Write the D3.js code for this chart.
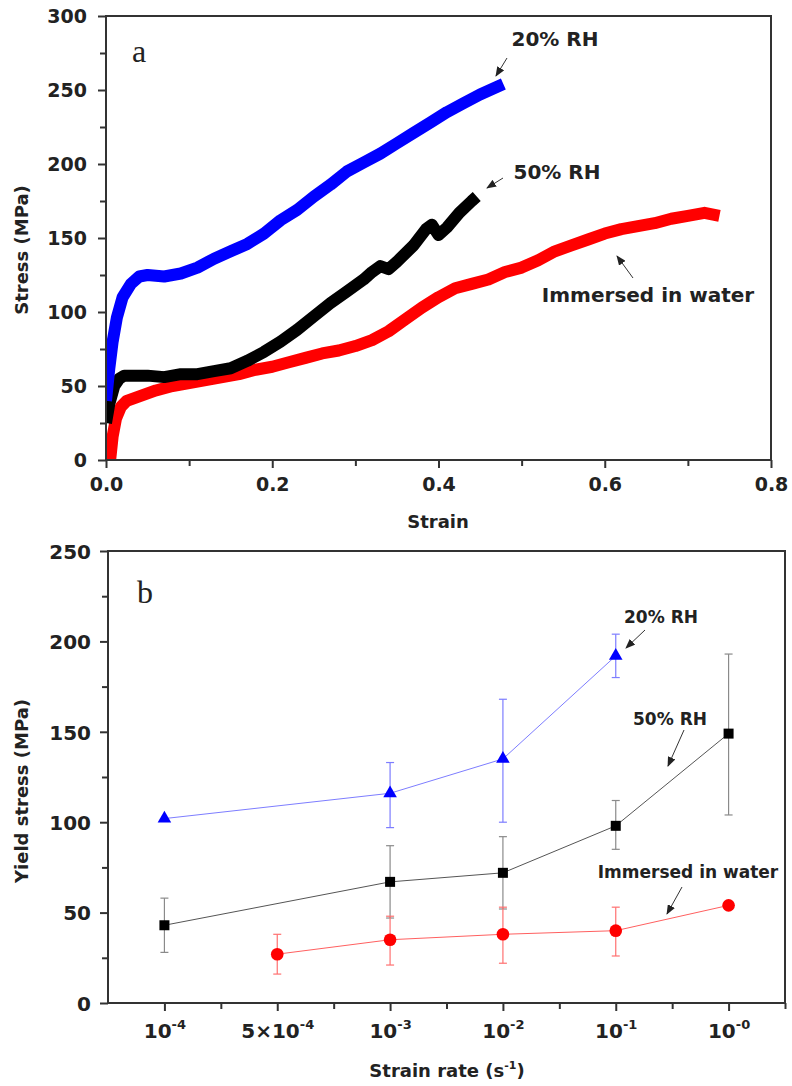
<!DOCTYPE html>
<html>
<head>
<meta charset="utf-8">
<script src="https://cdn.jsdelivr.net/npm/d3@7"></script>
<style>
  body { margin: 0; background: #fff; }
  svg { display: block; }
  text { font-family: "DejaVu Sans", sans-serif; font-weight: bold; fill: #222; }
</style>
</head>
<body>
<script>
// ---- panel a: stress-strain curves ----
const strain20 = [0, 0.004, 0.008, 0.013, 0.02, 0.03, 0.04, 0.05, 0.07, 0.09, 0.11, 0.13, 0.15, 0.17, 0.19, 0.21, 0.23, 0.25, 0.27, 0.29, 0.31, 0.33, 0.35, 0.37, 0.39, 0.41, 0.43, 0.45, 0.47, 0.478]
const stress20 = [40, 62, 80, 96, 110, 119, 124, 125, 124, 126, 130, 136, 141, 146, 153, 162, 169, 178, 186, 195, 201, 207, 214, 221, 228, 235, 241, 247, 252, 254]

const strain50 = [0, 0.004, 0.01, 0.016, 0.022, 0.03, 0.05, 0.07, 0.09, 0.11, 0.13, 0.15, 0.17, 0.19, 0.21, 0.23, 0.25, 0.27, 0.29, 0.31, 0.32, 0.33, 0.34, 0.35, 0.37, 0.385, 0.392, 0.40, 0.41, 0.425, 0.44, 0.446]
const stress50 = [25, 38, 50, 55, 57, 57, 57, 56, 58, 58, 60, 62, 67, 73, 80, 88, 97, 106, 114, 122, 127, 131, 129, 134, 145, 156, 159, 152, 157, 167, 175, 178]

const strainWater = [0.005, 0.008, 0.012, 0.018, 0.025, 0.04, 0.06, 0.08, 0.1, 0.12, 0.14, 0.16, 0.18, 0.2, 0.22, 0.24, 0.26, 0.28, 0.3, 0.32, 0.34, 0.36, 0.38, 0.4, 0.42, 0.44, 0.46, 0.48, 0.5, 0.52, 0.54, 0.56, 0.58, 0.6, 0.62, 0.64, 0.66, 0.68, 0.7, 0.72, 0.738]
const stressWater = [0, 16, 28, 36, 40, 43, 47, 50, 52, 54, 56, 58, 61, 63, 66, 69, 72, 74, 77, 81, 87, 95, 103, 110, 116, 119, 122, 127, 130, 135, 141, 145, 149, 153, 156, 158, 160, 163, 165, 167, 165]

const strainTicks = [0, 0.2, 0.4, 0.6, 0.8]
const stressTicks = [0, 50, 100, 150, 200, 250, 300]

// ---- panel b: yield stress vs strain rate ----
const rateBase = ["10", "5×10", "10", "10", "10", "10"]
const rateExp = ["-4", "-4", "-3", "-2", "-1", "-0"]

const rh20Idx = [0, 2, 3, 4]
const rh20Mean = [102, 116, 135, 192]
const rh20Lo = [null, 97, 100, 180]
const rh20Hi = [null, 133, 168, 204]

const rh50Idx = [0, 2, 3, 4, 5]
const rh50Mean = [43, 67, 72, 98, 149]
const rh50Lo = [28, 47, 52, 85, 104]
const rh50Hi = [58, 87, 92, 112, 193]

const waterIdx = [1, 2, 3, 4, 5]
const waterMean = [27, 35, 38, 40, 54]
const waterLo = [16, 21, 22, 26, null]
const waterHi = [38, 48, 53, 53, null]

const yieldTicks = [0, 50, 100, 150, 200, 250]

const svg = d3.select("body").append("svg")
    .attr("width", 792)
    .attr("height", 1086)

const defs = svg.append("defs")
defs.append("marker")
    .attr("id", "arrow")
    .attr("viewBox", "0 -4 10 8")
    .attr("markerUnits", "userSpaceOnUse")
    .attr("markerWidth", 10)
    .attr("markerHeight", 8)
    .attr("refX", 9)
    .attr("orient", "auto")
    .append("path")
    .attr("d", "M0,-4 L10,0 L0,4 Z")
    .attr("fill", "#222")

function frame(g, x, y) {
    const [x0, x1] = x.range()
    const [y0, y1] = y.range()
    g.append("rect")
        .attr("x", x0).attr("y", y1)
        .attr("width", x1 - x0).attr("height", y0 - y1)
        .attr("fill", "none")
        .attr("stroke", "#333")
        .attr("stroke-width", 2)
}

function styleAxis(g) {
    g.select(".domain").remove()
    g.selectAll(".tick line").attr("stroke", "#333").attr("stroke-width", 2)
}

// ================= panel a =================
const xA = d3.scaleLinear().domain([0, 0.8]).range([106, 771])
const yA = d3.scaleLinear().domain([0, 300]).range([460, 16])
const gA = svg.append("g")

defs.append("clipPath").attr("id", "clipA")
    .append("rect")
    .attr("x", xA(0)).attr("y", yA(300))
    .attr("width", xA(0.8) - xA(0)).attr("height", yA(0) - yA(300))

const lineA = d3.line().x(d => xA(d[0])).y(d => yA(d[1]))
const curves = [
    { x: strainWater, y: stressWater, color: "#ff0000" },
    { x: strain50, y: stress50, color: "#000000" },
    { x: strain20, y: stress20, color: "#0000ff" }
]
gA.append("g").attr("clip-path", "url(#clipA)")
    .selectAll("path")
    .data(curves)
    .join("path")
    .attr("d", d => lineA(d.x.map((v, i) => [v, d.y[i]])))
    .attr("fill", "none")
    .attr("stroke", d => d.color)
    .attr("stroke-width", 12)
    .attr("stroke-linejoin", "round")

// minor ticks
gA.append("g").attr("transform", `translate(0,${yA(0)})`)
    .call(d3.axisBottom(xA).tickValues([0.1, 0.3, 0.5, 0.7]).tickSize(6).tickFormat(""))
    .call(styleAxis)
gA.append("g").attr("transform", `translate(${xA(0)},0)`)
    .call(d3.axisLeft(yA).tickValues([25, 75, 125, 175, 225, 275]).tickSize(6).tickFormat(""))
    .call(styleAxis)

const axXA = gA.append("g").attr("transform", `translate(0,${yA(0)})`)
    .call(d3.axisBottom(xA).tickValues(strainTicks).tickSize(8).tickFormat(d3.format(".1f")))
    .call(styleAxis)
axXA.selectAll("text").attr("dy", null).attr("y", 31).attr("font-size", 19)

const axYA = gA.append("g").attr("transform", `translate(${xA(0)},0)`)
    .call(d3.axisLeft(yA).tickValues(stressTicks).tickSize(8))
    .call(styleAxis)
axYA.selectAll("text").attr("x", -19).attr("dy", "0.36em").attr("font-size", 19)

frame(gA, xA, yA)

gA.append("text").attr("x", 132).attr("y", 62)
    .style("font-family", "'Liberation Serif', serif").style("font-weight", "normal")
    .attr("font-size", 32)
    .text("a")

gA.append("text").attr("x", 438).attr("y", 528).attr("text-anchor", "middle")
    .attr("font-size", 18).text("Strain")
gA.append("text").attr("transform", "translate(28,250) rotate(-90)")
    .attr("text-anchor", "middle").attr("font-size", 18).text("Stress (MPa)")

const notesA = [
    { text: "20% RH", x: 555, y: 46, ax1: 507, ay1: 58, ax2: 496, ay2: 76 },
    { text: "50% RH", x: 557, y: 179, ax1: 503, ay1: 178, ax2: 487, ay2: 188 },
    { text: "Immersed in water", x: 648, y: 302, ax1: 633, ay1: 278, ax2: 617, ay2: 256 }
]
notesA.forEach(n => {
    gA.append("text").attr("x", n.x).attr("y", n.y).attr("text-anchor", "middle")
        .attr("font-size", 20).attr("fill", "#333").text(n.text)
    gA.append("line")
        .attr("x1", n.ax1).attr("y1", n.ay1).attr("x2", n.ax2).attr("y2", n.ay2)
        .attr("stroke", "#333").attr("stroke-width", 1)
        .attr("marker-end", "url(#arrow)")
})

// ================= panel b =================
const xB = d3.scaleLinear().domain([-0.5, 5.5]).range([108, 785])
const yB = d3.scaleLinear().domain([0, 250]).range([1003, 551])
const gB = svg.append("g")

gB.append("g").attr("transform", `translate(0,${yB(0)})`)
    .call(d3.axisBottom(xB).tickValues([0.5, 1.5, 2.5, 3.5, 4.5, 5.5]).tickSize(6).tickFormat(""))
    .call(styleAxis)
gB.append("g").attr("transform", `translate(${xB(-0.5)},0)`)
    .call(d3.axisLeft(yB).tickValues([25, 75, 125, 175, 225]).tickSize(6).tickFormat(""))
    .call(styleAxis)

const axXB = gB.append("g").attr("transform", `translate(0,${yB(0)})`)
    .call(d3.axisBottom(xB).tickValues(d3.range(rateBase.length)).tickSize(8))
    .call(styleAxis)
axXB.selectAll("text").each(function (d) {
    const t = d3.select(this).text("").attr("dy", null).attr("y", 35).attr("font-size", 20)
    t.append("tspan").text(rateBase[d])
    t.append("tspan").attr("font-size", 13).attr("dy", -9).text(rateExp[d])
})

const axYB = gB.append("g").attr("transform", `translate(${xB(-0.5)},0)`)
    .call(d3.axisLeft(yB).tickValues(yieldTicks).tickSize(8))
    .call(styleAxis)
axYB.selectAll("text").attr("x", -17).attr("dy", "0.36em").attr("font-size", 20)

const seriesB = [
    { idx: rh20Idx, mean: rh20Mean, lo: rh20Lo, hi: rh20Hi, line: "#7d7dff", err: "#7d7dff", fill: "#0000ff", sym: d3.symbolTriangle, size: 80 },
    { idx: rh50Idx, mean: rh50Mean, lo: rh50Lo, hi: rh50Hi, line: "#555555", err: "#8a8a8a", fill: "#000000", sym: d3.symbolSquare, size: 100 },
    { idx: waterIdx, mean: waterMean, lo: waterLo, hi: waterHi, line: "#ff6060", err: "#ff7070", fill: "#ff0000", sym: d3.symbolCircle, size: 125 }
]

const lineB = d3.line().x(d => xB(d[0])).y(d => yB(d[1]))
seriesB.forEach(s => {
    const g = gB.append("g")
    s.idx.forEach((k, i) => {
        if (s.lo[i] == null) return
        const cx = xB(k)
        g.append("line").attr("x1", cx).attr("x2", cx)
            .attr("y1", yB(s.lo[i])).attr("y2", yB(s.hi[i]))
            .attr("stroke", s.err).attr("stroke-width", 1.2)
        ;[s.lo[i], s.hi[i]].forEach(v => {
            g.append("line").attr("x1", cx - 4).attr("x2", cx + 4)
                .attr("y1", yB(v)).attr("y2", yB(v))
                .attr("stroke", s.err).attr("stroke-width", 1.2)
        })
    })
    g.append("path")
        .attr("d", lineB(s.idx.map((k, i) => [k, s.mean[i]])))
        .attr("fill", "none").attr("stroke", s.line).attr("stroke-width", 1)
    g.selectAll(".pt")
        .data(s.idx.map((k, i) => [k, s.mean[i]]))
        .join("path")
        .attr("transform", d => `translate(${xB(d[0])},${yB(d[1])})`)
        .attr("d", d3.symbol(s.sym, s.size))
        .attr("fill", s.fill)
})

frame(gB, xB, yB)

gB.append("text").attr("x", 137).attr("y", 603)
    .style("font-family", "'Liberation Serif', serif").style("font-weight", "normal")
    .attr("font-size", 32).text("b")

gB.append("text").attr("x", 447).attr("y", 1077).attr("text-anchor", "middle")
    .attr("font-size", 18)
    .call(t => {
        t.append("tspan").text("Strain rate (s")
        t.append("tspan").attr("font-size", 11).attr("dy", -8).text("-1")
        t.append("tspan").attr("dy", 8).text(")")
    })
gB.append("text").attr("transform", "translate(28,791) rotate(-90)")
    .attr("text-anchor", "middle").attr("font-size", 18).text("Yield stress (MPa)")

const notesB = [
    { text: "20% RH", x: 661, y: 623, ax1: 645, ay1: 630, ax2: 626, ay2: 648 },
    { text: "50% RH", x: 670, y: 725, ax1: 684, ay1: 730, ax2: 668, ay2: 766 },
    { text: "Immersed in water", x: 688, y: 878, ax1: 682, ay1: 887, ax2: 667, ay2: 914 }
]
notesB.forEach(n => {
    gB.append("text").attr("x", n.x).attr("y", n.y).attr("text-anchor", "middle")
        .attr("font-size", 17).attr("fill", "#333").text(n.text)
    gB.append("line")
        .attr("x1", n.ax1).attr("y1", n.ay1).attr("x2", n.ax2).attr("y2", n.ay2)
        .attr("stroke", "#333").attr("stroke-width", 1)
        .attr("marker-end", "url(#arrow)")
})
</script>
</body>
</html>
